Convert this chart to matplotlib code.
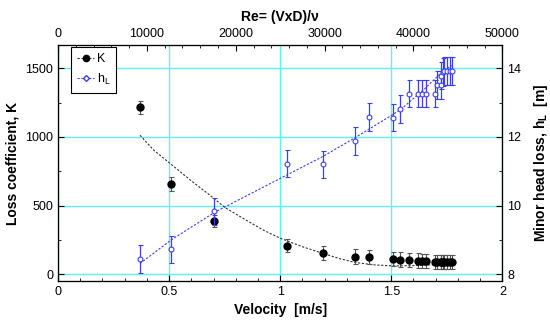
import matplotlib
matplotlib.use("Agg")
from matplotlib import pyplot as plt
from matplotlib.lines import Line2D
from matplotlib.ticker import MultipleLocator

plt.rcParams['font.family'] = ['Liberation Sans', 'DejaVu Sans']
plt.rcParams['mathtext.fontset'] = 'custom'
plt.rcParams['mathtext.rm'] = 'Liberation Sans'
plt.rcParams['mathtext.bf'] = 'Liberation Sans:bold'

# measured velocity [m/s]
velocity = [0.369, 0.509, 0.703, 1.03, 1.195, 1.338, 1.401, 1.507, 1.54, 1.581, 1.619,
            1.638, 1.656, 1.698, 1.706, 1.723, 1.725, 1.731, 1.739, 1.751, 1.763, 1.773]
# loss coefficient K
K = [1215, 658, 388, 206, 152, 128, 124, 108, 106, 104, 99,
     97, 95, 90, 91, 89, 91, 91, 90, 89, 88, 87]
K_err = [50, 50, 42, 47, 50, 52, 52, 52, 52, 52, 52,
         52, 52, 52, 52, 52, 52, 52, 52, 52, 52, 52]
# minor head loss hL [m]
hL = [8.44, 8.72, 9.83, 11.22, 11.20, 11.88, 12.58, 12.56, 12.82, 13.26, 13.26,
      13.26, 13.26, 13.26, 13.52, 13.52, 13.79, 13.89, 13.92, 13.92, 13.92, 13.92]
hL_err = [0.4] * len(hL)

# trend curves
fitK_v = [0.369, 0.43, 0.505, 0.6, 0.68, 0.752, 0.84, 0.925, 1.0, 1.1, 1.195,
          1.27, 1.338, 1.42, 1.507, 1.631, 1.773]
fitK = [1012, 905, 806, 680, 580, 485, 400, 320, 262, 200, 150,
        112, 85, 68, 60, 63, 78]
fitH_v = [0.369, 0.512, 0.707, 1.0, 1.195, 1.338, 1.541, 1.65, 1.736, 1.773]
fitH = [8.31, 9.01, 9.81, 10.79, 11.44, 11.98, 12.79, 13.4, 13.94, 14.08]

blue = '#3c3cff'
grid_col = '#5ff2f2'

fig = plt.figure(figsize=(5.5, 3.23), dpi=100)
ax = fig.add_axes([0.1055, 0.130, 0.8078, 0.7307])

#left axis: loss coefficient
ax.set_xlim(0, 2)
ax.set_ylim(-50, 1670)
ax.xaxis.set_major_locator(MultipleLocator(0.5))
ax.xaxis.set_minor_locator(MultipleLocator(0.1))
ax.yaxis.set_major_locator(MultipleLocator(500))
ax.yaxis.set_minor_locator(MultipleLocator(250))
ax.set_xticks([0, 0.5, 1, 1.5, 2])
ax.set_xticklabels(['0', '0.5', '1', '1.5', '2'])
ax.grid(True, which='major', color=grid_col, lw=1.0)
ax.set_axisbelow(True)
ax.tick_params(which='both', direction='in', labelsize=9, top=False, right=False)
ax.tick_params(which='major', length=4)
ax.tick_params(which='minor', length=2)
ax.set_xlabel('Velocity  [m/s]', fontsize=10, fontweight='bold', labelpad=4)
ax.set_ylabel('Loss coefficient, K', fontsize=10, fontweight='bold', labelpad=4)

ax.plot(fitK_v, fitK, ls=(0, (2, 1.5)), color='#333333', lw=0.8, zorder=3)
ax.errorbar(velocity, K, yerr=K_err, fmt='o', color='black', ms=5,
            ecolor='#555555', elinewidth=0.8, capsize=1.8, capthick=0.8, zorder=4)

#right axis: head loss
ax2 = ax.twinx()
ax2.set_ylim(7.8, 14.68)
ax2.yaxis.set_major_locator(MultipleLocator(2))
ax2.yaxis.set_minor_locator(MultipleLocator(1))
ax2.tick_params(which='both', direction='in', labelsize=9)
ax2.tick_params(which='major', length=4)
ax2.tick_params(which='minor', length=2)
ax2.set_ylabel(r'Minor head loss, h$_\mathbf{L}$  [m]', fontsize=10,
               fontweight='bold', labelpad=8)
ax2.plot(fitH_v, fitH, ls=(0, (2, 1.5)), color=blue, lw=0.8, zorder=3)
ax2.errorbar(velocity, hL, yerr=hL_err, fmt='o', color=blue, mfc='white', mec=blue,
             mew=0.8, ms=3.5, ecolor=blue, elinewidth=0.9, capsize=1.8,
             capthick=0.8, zorder=4)

#top axis: Reynolds number (shares y with ax, so leave its y ticks alone)
ax3 = ax.twiny()
ax3.set_xlim(0, 50000)
ax3.xaxis.set_major_locator(MultipleLocator(10000))
ax3.xaxis.set_minor_locator(MultipleLocator(2000))
ax3.tick_params(axis='x', which='both', direction='in', labelsize=9)
ax3.tick_params(axis='x', which='major', length=4)
ax3.tick_params(axis='x', which='minor', length=2)
ax3.set_xlabel('Re= (VxD)/\u03bd', fontsize=10, fontweight='bold', labelpad=5)

handles = [Line2D([], [], color='#333333', ls=(0, (2, 1.5)), lw=0.8, marker='o',
                  ms=4.5, mfc='black', mec='black'),
           Line2D([], [], color=blue, ls=(0, (2, 1.5)), lw=0.8, marker='D',
                  ms=3, mfc='white', mec=blue)]
leg = ax3.legend(handles, ['K', r'h$_\mathrm{L}$'], loc='upper left',
                 bbox_to_anchor=(0.03, 0.99), borderaxespad=0, fontsize=9,
                 handlelength=1.4, handletextpad=0.2, borderpad=0.45,
                 labelspacing=0.55, fancybox=False, framealpha=1)
leg.get_frame().set_edgecolor('black')
leg.get_frame().set_linewidth(0.8)

fig.savefig('out.png', dpi=100)
